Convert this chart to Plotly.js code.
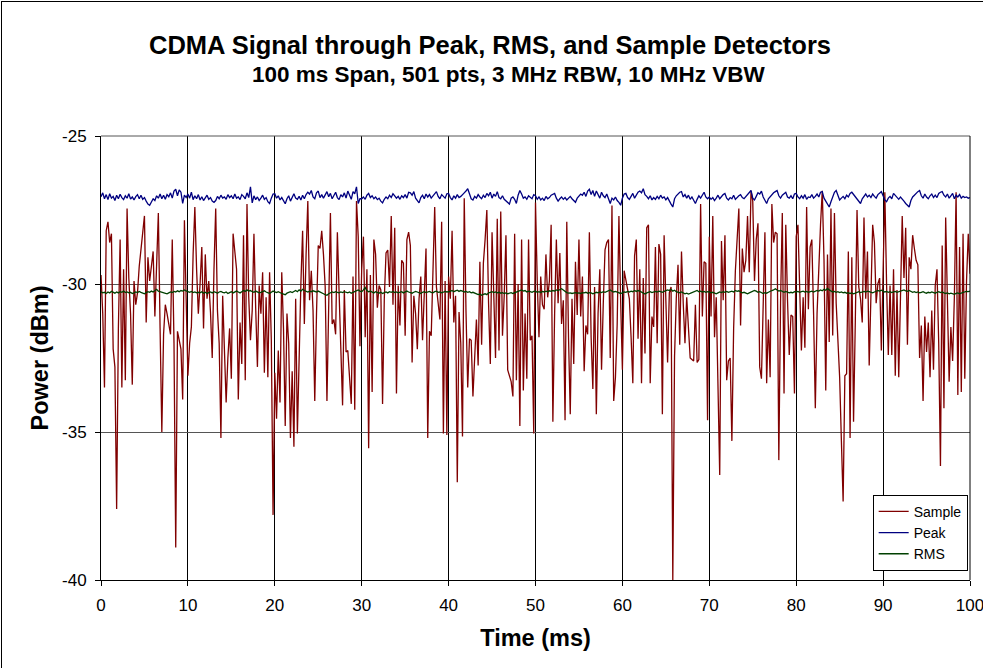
<!DOCTYPE html>
<html>
<head>
<meta charset="utf-8">
<script src="https://cdn.plot.ly/plotly-3.0.1.min.js"></script>
<style>
  html, body { margin: 0; padding: 0; background: #fff; }
  #wrap { position: relative; width: 983px; height: 668px; overflow: hidden; }
  #chart { position: absolute; left: 0; top: 0; width: 983px; height: 668px; }
  #frame { position: absolute; left: 1px; top: 1px; width: 990px; height: 680px; border: 1px solid #000; pointer-events: none; }
</style>
</head>
<body>
<div id="wrap"><div id="chart"></div><div id="frame"></div></div>
<script>
// ---- Chart data ----
const titleText = "CDMA Signal through Peak, RMS, and Sample Detectors";
const subtitleText = "100 ms Span, 501 pts, 3 MHz RBW, 10 MHz VBW";
const spanMs = 100;
const nPts = 501;
const xTickVals = [0, 10, 20, 30, 40, 50, 60, 70, 80, 90, 100];
const yTickVals = [-40, -35, -30, -25];
const seriesNames = ["Sample", "Peak", "RMS"];

const sample = [
-29.7,-31.0,-33.5,-28.2,-27.9,-28.6,-28.3,-32.2,-32.8,-37.6,
-31.5,-28.5,-33.5,-29.5,-33.25,-27.45,-29.8,-31.0,-33.4,-29.9,
-30.7,-30.3,-29.4,-28.8,-28.2,-27.7,-31.3,-29.1,-29.9,-29.4,
-28.9,-31.1,-29.3,-27.6,-31.5,-35.0,-31.7,-30.7,-31.0,-31.3,
-31.7,-28.5,-32.0,-38.9,-31.6,-31.9,-32.2,-33.9,-27.85,-30.5,
-33.1,-32.0,-31.45,-29.0,-27.4,-29.5,-31.0,-30.0,-28.75,-31.5,
-29.0,-30.5,-29.9,-30.95,-32.5,-29.5,-27.45,-30.9,-32.0,-35.2,
-30.4,-32.2,-34.0,-32.5,-31.5,-33.2,-28.3,-28.9,-29.5,-33.9,
-31.3,-32.7,-28.35,-33.25,-27.3,-30.45,-31.9,-30.9,-28.3,-30.8,
-32.8,-30.05,-31.0,-29.6,-33.0,-30.45,-33.15,-29.6,-31.9,-37.8,
-33.0,-34.55,-32.25,-34.0,-29.6,-31.5,-34.8,-31.0,-32.0,-35.2,
-32.95,-35.5,-30.5,-35.05,-32.3,-30.0,-28.2,-31.35,-29.0,-27.2,
-30.55,-29.55,-30.9,-33.95,-31.0,-28.7,-28.8,-28.2,-29.0,-30.1,
-33.95,-30.5,-27.6,-31.35,-31.2,-31.7,-28.25,-30.3,-32.0,-34.1,
-30.2,-32.3,-32.25,-33.0,-34.05,-29.75,-34.25,-27.2,-28.4,-32.1,
-29.5,-28.4,-31.8,-29.5,-35.55,-29.7,-33.65,-28.5,-29.0,-30.8,
-30.05,-30.2,-34.05,-30.5,-28.95,-28.85,-30.1,-27.7,-30.7,-28.1,
-33.7,-30.05,-31.4,-29.2,-29.3,-31.75,-28.5,-28.25,-28.7,-32.65,
-30.4,-31.0,-32.2,-30.5,-29.75,-31.9,-30.0,-28.8,-35.2,-31.6,
-31.75,-29.3,-27.4,-30.1,-30.6,-31.2,-27.9,-35.05,-29.9,-35.1,
-29.75,-30.5,-28.2,-31.3,-30.4,-36.7,-30.95,-32.0,-35.15,-27.1,
-30.9,-33.5,-31.85,-31.9,-33.8,-32.3,-31.2,-32.75,-29.25,-32.05,
-29.3,-28.5,-27.5,-30.65,-32.7,-28.25,-30.7,-32.5,-27.8,-32.25,
-27.55,-31.75,-30.4,-28.35,-32.9,-33.1,-33.3,-33.8,-28.3,-33.25,
-30.0,-34.8,-28.5,-33.6,-31.0,-33.2,-28.5,-31.9,-31.75,-35.05,
-27.25,-29.9,-31.8,-29.75,-30.7,-30.85,-29.0,-30.45,-29.9,-28.0,
-34.65,-31.0,-28.5,-30.65,-28.95,-31.35,-30.55,-34.6,-27.9,-31.8,
-34.4,-30.5,-32.7,-29.25,-31.05,-28.5,-31.1,-29.75,-32.95,-31.4,
-31.7,-28.25,-31.8,-33.55,-30.1,-34.4,-31.0,-29.5,-32.9,-30.65,
-28.85,-28.6,-28.5,-32.5,-27.35,-33.95,-33.15,-31.35,-27.7,-30.6,
-32.9,-29.55,-29.9,-30.15,-30.5,-31.8,-33.35,-29.05,-28.5,-31.85,
-29.5,-33.35,-29.8,-32.35,-28.1,-28.0,-33.35,-31.1,-31.45,-28.75,
-32.0,-28.65,-29.0,-34.4,-28.35,-30.55,-32.65,-30.3,-30.1,-40.0,
-32.45,-30.5,-29.35,-32.05,-28.9,-30.65,-32.0,-30.45,-31.45,-32.5,
-32.55,-32.6,-30.7,-32.65,-32.55,-27.3,-31.1,-29.25,-29.3,-34.6,
-28.4,-31.1,-27.7,-31.8,-30.45,-33.6,-36.45,-28.55,-30.55,-28.35,
-33.25,-32.6,-32.5,-35.3,-31.5,-29.55,-28.5,-27.45,-31.4,-28.8,
-29.6,-29.2,-27.7,-29.6,-26.85,-27.2,-29.9,-28.5,-27.95,-32.8,
-33.2,-30.2,-28.25,-33.35,-31.2,-33.15,-27.3,-28.6,-28.25,-28.3,
-35.95,-30.6,-27.6,-33.7,-28.0,-30.55,-32.4,-31.05,-31.1,-33.7,
-28.4,-28.0,-29.8,-32.25,-30.45,-32.15,-27.4,-30.85,-28.75,-28.5,
-31.0,-34.2,-31.0,-29.2,-28.0,-26.85,-29.2,-33.6,-29.0,-31.96,
-27.45,-31.74,-27.6,-30.65,-31.74,-33.15,-35.3,-37.35,-33.1,-33.03,
-28.9,-35.2,-29.1,-34.65,-31.3,-27.5,-30.1,-30.5,-31.3,-27.75,
-30.5,-28.9,-32.75,-30.5,-28.0,-28.6,-30.65,-29.99,-29.8,-32.25,
-28.9,-26.9,-30.0,-32.4,-30.05,-32.4,-29.5,-33.1,-30.2,-33.15,
-30.45,-27.7,-29.8,-28.1,-32.05,-29.1,-29.5,-28.35,-28.8,-29.2,
-29.35,-32.5,-31.4,-33.95,-31.1,-32.3,-31.3,-33.15,-30.9,-32.9,
-30.05,-29.5,-32.0,-36.15,-28.7,-34.2,-27.75,-30.4,-33.3,-31.45,
-32.6,-30.45,-26.9,-33.75,-28.75,-33.65,-28.3,-33.2,-29.9,-28.3,
-29.65
];

const peak = [
-27.05,-26.92,-27.12,-26.98,-27.15,-26.95,-27.1,-27.04,-27.18,-27.0,
-27.12,-26.97,-27.08,-27.15,-27.02,-27.1,-26.95,-27.13,-27.06,-27.16,
-27.05,-26.98,-27.12,-27.0,-27.14,-27.08,-27.2,-27.3,-27.34,-27.22,
-27.12,-27.18,-27.02,-27.1,-26.96,-27.12,-27.0,-27.14,-26.98,-27.05,
-26.92,-27.1,-26.86,-26.8,-27.02,-26.82,-26.9,-27.28,-27.0,-27.08,
-26.96,-27.1,-26.9,-27.15,-27.02,-27.12,-26.98,-27.16,-27.05,-27.18,
-27.1,-27.0,-27.14,-27.08,-27.2,-27.24,-27.18,-27.04,-27.12,-27.0,
-27.1,-27.06,-27.14,-26.98,-27.08,-27.02,-27.12,-26.96,-27.1,-27.06,
-27.15,-26.98,-27.04,-27.12,-26.92,-27.08,-26.72,-27.26,-27.02,-27.15,
-27.06,-27.18,-27.1,-27.0,-27.14,-27.08,-27.22,-27.28,-27.1,-26.96,
-26.95,-27.1,-27.02,-27.16,-27.08,-27.2,-27.29,-27.12,-27.02,-27.2,
-27.06,-26.95,-27.1,-27.14,-27.04,-27.16,-27.0,-27.12,-26.98,-26.9,
-26.96,-26.84,-27.06,-27.12,-26.92,-26.86,-27.08,-26.98,-27.1,-27.0,
-26.88,-27.05,-26.94,-27.12,-27.02,-26.9,-27.08,-27.15,-26.98,-27.06,
-26.92,-27.1,-26.86,-27.0,-27.14,-26.88,-26.95,-26.72,-27.28,-27.12,
-27.12,-27.06,-27.14,-27.0,-26.94,-27.08,-27.02,-27.12,-27.06,-27.15,
-27.1,-27.2,-27.26,-27.14,-27.06,-27.12,-27.0,-27.08,-26.95,-27.02,
-27.1,-27.04,-27.14,-27.02,-27.08,-26.98,-27.1,-26.9,-26.92,-27.0,
-26.88,-27.1,-27.2,-27.26,-27.08,-27.0,-27.12,-26.96,-27.06,-26.98,
-27.1,-27.02,-26.92,-26.88,-27.04,-27.12,-26.98,-27.06,-27.1,-26.95,
-26.94,-27.08,-27.16,-27.02,-27.1,-26.98,-27.08,-27.04,-26.96,-26.92,
-26.86,-26.78,-26.95,-27.12,-27.16,-27.04,-27.1,-26.98,-27.06,-27.12,
-27.0,-27.08,-26.94,-27.02,-26.9,-27.1,-26.96,-27.04,-26.88,-27.08,
-27.12,-27.02,-27.14,-27.2,-27.26,-27.3,-27.1,-27.06,-27.14,-27.28,
-27.0,-26.84,-26.96,-27.1,-27.06,-27.14,-27.02,-27.08,-27.12,-26.98,
-27.02,-27.14,-27.06,-27.16,-27.1,-27.18,-27.04,-27.12,-27.08,-27.0,
-26.96,-26.94,-27.1,-27.2,-27.12,-27.06,-27.14,-27.08,-27.16,-27.1,
-27.04,-27.12,-27.2,-27.24,-27.1,-27.02,-26.96,-27.0,-26.9,-27.04,
-26.86,-26.8,-26.98,-26.84,-27.04,-26.86,-26.96,-27.1,-26.9,-27.02,
-27.08,-26.96,-27.12,-27.28,-27.1,-27.16,-27.06,-27.18,-27.24,-27.34,
-27.1,-26.96,-26.94,-27.08,-27.14,-27.02,-26.94,-27.1,-26.98,-26.9,
-26.86,-26.92,-26.78,-26.98,-27.04,-27.12,-27.02,-27.16,-27.08,-27.14,
-27.04,-27.12,-27.0,-27.1,-27.06,-27.16,-27.08,-27.22,-27.3,-27.4,
-27.12,-27.02,-26.96,-26.9,-26.88,-27.06,-26.98,-27.1,-27.0,-27.14,
-27.06,-27.2,-27.28,-27.14,-27.02,-27.1,-26.98,-26.9,-27.06,-27.12,
-27.06,-27.14,-27.08,-27.18,-27.1,-27.0,-27.12,-27.04,-26.98,-26.94,
-27.1,-27.16,-27.08,-27.12,-27.0,-27.14,-27.06,-27.02,-26.98,-27.08,
-27.12,-27.04,-26.96,-26.9,-26.84,-27.1,-27.16,-27.04,-26.92,-26.96,
-26.86,-27.06,-27.18,-27.28,-27.12,-27.04,-26.98,-26.92,-26.88,-26.84,
-27.02,-27.1,-27.0,-26.94,-26.9,-27.06,-27.1,-27.02,-27.12,-26.96,
-26.94,-27.06,-27.12,-27.02,-27.1,-26.98,-27.14,-27.06,-27.08,-26.98,
-27.1,-27.04,-26.96,-27.06,-26.9,-26.88,-27.1,-27.2,-27.28,-27.4,
-27.22,-27.02,-26.9,-26.84,-27.0,-27.16,-27.1,-27.04,-27.12,-27.0,
-27.06,-26.94,-26.9,-26.98,-27.08,-27.16,-27.22,-27.28,-27.12,-27.04,
-26.96,-27.06,-27.0,-27.08,-26.96,-27.04,-27.1,-26.98,-26.92,-26.88,
-27.02,-27.16,-27.22,-27.1,-27.04,-27.12,-26.94,-27.0,-27.08,-27.14,
-27.06,-27.12,-27.2,-27.28,-27.34,-27.4,-27.18,-27.06,-27.0,-26.92,
-26.88,-26.84,-27.02,-27.1,-26.96,-27.06,-27.12,-27.02,-26.96,-27.08,
-27.0,-27.08,-26.94,-26.9,-26.88,-27.0,-27.06,-26.96,-27.1,-27.02,
-26.94,-27.12,-27.0,-27.06,-26.98,-27.1,-27.04,-27.08,-27.06,-27.1,
-27.08
];

const rms = [
-30.26,-30.3,-30.28,-30.32,-30.27,-30.3,-30.25,-30.29,-30.31,-30.27,
-30.3,-30.26,-30.28,-30.24,-30.29,-30.27,-30.3,-30.28,-30.32,-30.3,
-30.27,-30.29,-30.25,-30.28,-30.3,-30.33,-30.29,-30.26,-30.28,-30.24,
-30.27,-30.22,-30.18,-30.24,-30.26,-30.29,-30.3,-30.31,-30.33,-30.3,
-30.27,-30.29,-30.25,-30.27,-30.23,-30.26,-30.22,-30.24,-30.2,-30.23,
-30.26,-30.28,-30.25,-30.29,-30.27,-30.3,-30.28,-30.3,-30.26,-30.31,
-30.28,-30.32,-30.29,-30.27,-30.3,-30.26,-30.28,-30.31,-30.27,-30.25,
-30.28,-30.3,-30.27,-30.32,-30.29,-30.26,-30.3,-30.28,-30.24,-30.27,
-30.3,-30.26,-30.22,-30.25,-30.2,-30.24,-30.22,-30.26,-30.28,-30.24,
-30.27,-30.3,-30.28,-30.25,-30.23,-30.27,-30.3,-30.32,-30.28,-30.24,
-30.27,-30.29,-30.26,-30.3,-30.32,-30.34,-30.36,-30.31,-30.28,-30.26,
-30.29,-30.25,-30.22,-30.26,-30.2,-30.24,-30.18,-30.22,-30.25,-30.27,
-30.24,-30.26,-30.23,-30.25,-30.27,-30.24,-30.28,-30.3,-30.33,-30.36,
-30.38,-30.33,-30.3,-30.27,-30.29,-30.26,-30.28,-30.3,-30.27,-30.29,
-30.26,-30.28,-30.3,-30.27,-30.31,-30.28,-30.25,-30.22,-30.2,-30.24,
-30.26,-30.2,-30.12,-30.22,-30.26,-30.24,-30.27,-30.3,-30.26,-30.29,
-30.31,-30.28,-30.32,-30.29,-30.27,-30.3,-30.26,-30.28,-30.25,-30.29,
-30.27,-30.3,-30.28,-30.26,-30.3,-30.27,-30.24,-30.27,-30.29,-30.31,
-30.28,-30.25,-30.27,-30.3,-30.32,-30.28,-30.26,-30.29,-30.27,-30.25,
-30.28,-30.3,-30.26,-30.24,-30.28,-30.27,-30.3,-30.26,-30.25,-30.27,
-30.27,-30.25,-30.22,-30.26,-30.23,-30.21,-30.25,-30.22,-30.24,-30.27,
-30.25,-30.28,-30.26,-30.3,-30.28,-30.31,-30.33,-30.36,-30.34,-30.38,
-30.35,-30.33,-30.36,-30.3,-30.28,-30.26,-30.29,-30.27,-30.3,-30.28,
-30.31,-30.29,-30.32,-30.3,-30.33,-30.31,-30.29,-30.32,-30.3,-30.28,
-30.26,-30.23,-30.2,-30.24,-30.22,-30.27,-30.24,-30.26,-30.28,-30.25,
-30.24,-30.28,-30.26,-30.29,-30.25,-30.27,-30.24,-30.26,-30.23,-30.25,
-30.22,-30.24,-30.2,-30.22,-30.19,-30.16,-30.2,-30.25,-30.29,-30.31,
-30.3,-30.32,-30.31,-30.29,-30.31,-30.3,-30.32,-30.29,-30.3,-30.28,
-30.31,-30.29,-30.3,-30.33,-30.31,-30.28,-30.3,-30.27,-30.29,-30.26,
-30.28,-30.25,-30.23,-30.2,-30.24,-30.27,-30.25,-30.28,-30.3,-30.32,
-30.3,-30.27,-30.28,-30.25,-30.27,-30.24,-30.26,-30.22,-30.25,-30.22,
-30.24,-30.28,-30.31,-30.34,-30.3,-30.28,-30.26,-30.29,-30.27,-30.25,
-30.27,-30.24,-30.26,-30.28,-30.25,-30.23,-30.2,-30.22,-30.18,-30.24,
-30.21,-30.26,-30.28,-30.3,-30.27,-30.3,-30.33,-30.31,-30.34,-30.32,
-30.3,-30.27,-30.24,-30.22,-30.26,-30.24,-30.27,-30.25,-30.28,-30.26,
-30.27,-30.3,-30.28,-30.31,-30.33,-30.3,-30.27,-30.29,-30.26,-30.28,
-30.25,-30.28,-30.26,-30.24,-30.27,-30.22,-30.25,-30.23,-30.27,-30.3,
-30.28,-30.31,-30.33,-30.3,-30.28,-30.25,-30.22,-30.24,-30.28,-30.26,
-30.3,-30.32,-30.29,-30.31,-30.28,-30.24,-30.22,-30.2,-30.16,-30.2,
-30.24,-30.22,-30.26,-30.28,-30.25,-30.27,-30.3,-30.28,-30.3,-30.26,
-30.27,-30.25,-30.28,-30.26,-30.24,-30.27,-30.25,-30.28,-30.26,-30.24,
-30.27,-30.25,-30.22,-30.24,-30.2,-30.23,-30.18,-30.21,-30.15,-30.2,
-30.24,-30.27,-30.25,-30.28,-30.26,-30.29,-30.27,-30.3,-30.28,-30.31,
-30.29,-30.32,-30.3,-30.33,-30.31,-30.28,-30.26,-30.29,-30.27,-30.25,
-30.27,-30.24,-30.26,-30.28,-30.3,-30.27,-30.25,-30.22,-30.24,-30.21,
-30.24,-30.27,-30.25,-30.28,-30.26,-30.29,-30.27,-30.25,-30.28,-30.26,
-30.24,-30.22,-30.2,-30.23,-30.25,-30.22,-30.26,-30.28,-30.26,-30.29,
-30.27,-30.3,-30.28,-30.26,-30.29,-30.31,-30.28,-30.3,-30.27,-30.29,
-30.31,-30.28,-30.26,-30.29,-30.27,-30.3,-30.32,-30.3,-30.33,-30.31,
-30.33,-30.35,-30.32,-30.3,-30.33,-30.3,-30.28,-30.27,-30.25,-30.26,
-30.24
];

// time axis: 501 points across the 100 ms span
const timeMs = sample.map((_, i) => i * spanMs / (nPts - 1));

const FONT = "Liberation Sans, Arial, Helvetica, sans-serif";

const traces = [
  { x: timeMs, y: sample, name: seriesNames[0], type: "scatter", mode: "lines",
    line: { color: "#800000", width: 1.3 } },
  { x: timeMs, y: peak, name: seriesNames[1], type: "scatter", mode: "lines",
    line: { color: "#000080", width: 1.3 } },
  { x: timeMs, y: rms, name: seriesNames[2], type: "scatter", mode: "lines",
    line: { color: "#004000", width: 1.3 } }
];

const layout = {
  width: 983, height: 668,
  margin: { l: 101, r: 13, t: 136, b: 88, pad: 0 },
  paper_bgcolor: "#fff", plot_bgcolor: "#fff",
  font: { family: FONT, color: "#000", size: 16 },
  showlegend: true,
  legend: {
    x: 0.888, y: 0.192, xanchor: "left", yanchor: "top",
    bgcolor: "#fff", bordercolor: "#000", borderwidth: 1,
    font: { family: FONT, size: 14, color: "#000" },
    tracegroupgap: 0, itemwidth: 30
  },
  xaxis: {
    range: [0, 100], tickvals: xTickVals, ticktext: xTickVals.map(String),
    showgrid: true, gridcolor: "#000", gridwidth: 1,
    showline: true, linecolor: "#000", linewidth: 1,
    ticks: "outside", ticklen: 5, tickcolor: "#000",
    zeroline: false, tickfont: { family: FONT, size: 17 },
    ticklabelstandoff: 5, ticklabeloverflow: "allow",
    title: { text: "<b>Time (ms)</b>", font: { family: FONT, size: 23.5 }, standoff: 15 },
    fixedrange: true
  },
  yaxis: {
    range: [-40, -25], tickvals: yTickVals, ticktext: yTickVals.map(String),
    showgrid: true, gridcolor: "#555", gridwidth: 1,
    showline: true, linecolor: "#000", linewidth: 1,
    ticks: "outside", ticklen: 5, tickcolor: "#000",
    zeroline: false, tickfont: { family: FONT, size: 17 },
    ticklabelstandoff: 5, ticklabeloverflow: "allow",
    title: { text: "<b>Power (dBm)</b>", font: { family: FONT, size: 23.5 }, standoff: 6 },
    fixedrange: true
  },
  shapes: [
    { type: "line", xref: "paper", yref: "paper", x0: 0, x1: 1, y0: 1, y1: 1, line: { color: "#555", width: 1 } },
    { type: "line", xref: "paper", yref: "paper", x0: 1, x1: 1, y0: 0, y1: 1, line: { color: "#000", width: 1 } }
  ],
  annotations: [
    { text: "<b>" + titleText + "</b>", xref: "paper", yref: "paper",
      x: (490 - 101) / 869, y: (580 - 45) / 444, xanchor: "center", yanchor: "middle",
      showarrow: false, font: { family: FONT, size: 25.5, color: "#000" } },
    { text: "<b>" + subtitleText + "</b>", xref: "paper", yref: "paper",
      x: (508 - 101) / 869, y: (580 - 75) / 444, xanchor: "center", yanchor: "middle",
      showarrow: false, font: { family: FONT, size: 22.5, color: "#000" } }
  ]
};

Plotly.newPlot("chart", traces, layout, { displayModeBar: false, staticPlot: true });
</script>
</body>
</html>
